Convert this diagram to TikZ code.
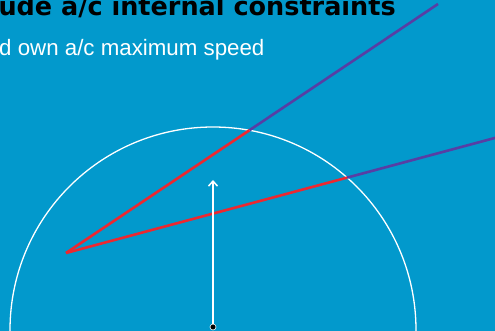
\documentclass[tikz,border=0pt]{standalone}
\usepackage{fontspec}
\setmainfont{Liberation Sans}
\newfontfamily\titlefont{DejaVu Sans}
\usetikzlibrary{arrows.meta,intersections}
\definecolor{bgblue}{RGB}{2,153,204}
\definecolor{cred}{RGB}{236,40,48}
\definecolor{cpurple}{RGB}{88,62,164}
\begin{document}
\begin{tikzpicture}[x=1pt,y=-1pt,
  redline/.style={cred,line width=2.6pt},
  purpleline/.style={cpurple,line width=2.6pt},
  rangecircle/.style={white,line width=1.3pt},
  speedarrow/.style={white,line width=1.5pt,-{Straight Barb[length=5pt,width=9pt]}},
  owndot/.style={circle,fill=black,draw=white,line width=0.6pt,inner sep=0pt,minimum size=6pt}]
\useasboundingbox (0,0) rectangle (495,331);
\clip (0,0) rectangle (495,331);
\fill[bgblue] (0,0) rectangle (495,331);
\coordinate (C) at (213,330);
\draw[rangecircle,name path=circ] (C) circle[radius=203pt];
\coordinate (A) at (66,253);
\coordinate (E1) at (438,4);
\coordinate (E2) at (500,136.6);
\path[name path=l1] (A) -- (E1);
\path[name path=l2] (A) -- (E2);
\path[name intersections={of=circ and l1, by=P1}];
\path[name intersections={of=circ and l2, by=P2}];
\draw[purpleline] (P1) -- (E1);
\draw[purpleline] (P2) -- (E2);
\draw[redline] (A) -- (P1);
\draw[redline] (A) -- (P2);
\node[owndot] (O) at (213,327) {};
\coordinate (T) at (213,180);
\draw[speedarrow] (O) -- (T);
\node[anchor=base west,inner sep=0pt,font=\titlefont\bfseries\fontsize{25.5}{25.5}\selectfont] (title) at (-1.7,16) {ude a/c internal constraints};
\node[anchor=base west,inner sep=0pt,text=white,font=\fontsize{22.3}{22.3}\selectfont] (sub) at (-1,56) {d own a/c maximum speed};
\end{tikzpicture}
\end{document}
